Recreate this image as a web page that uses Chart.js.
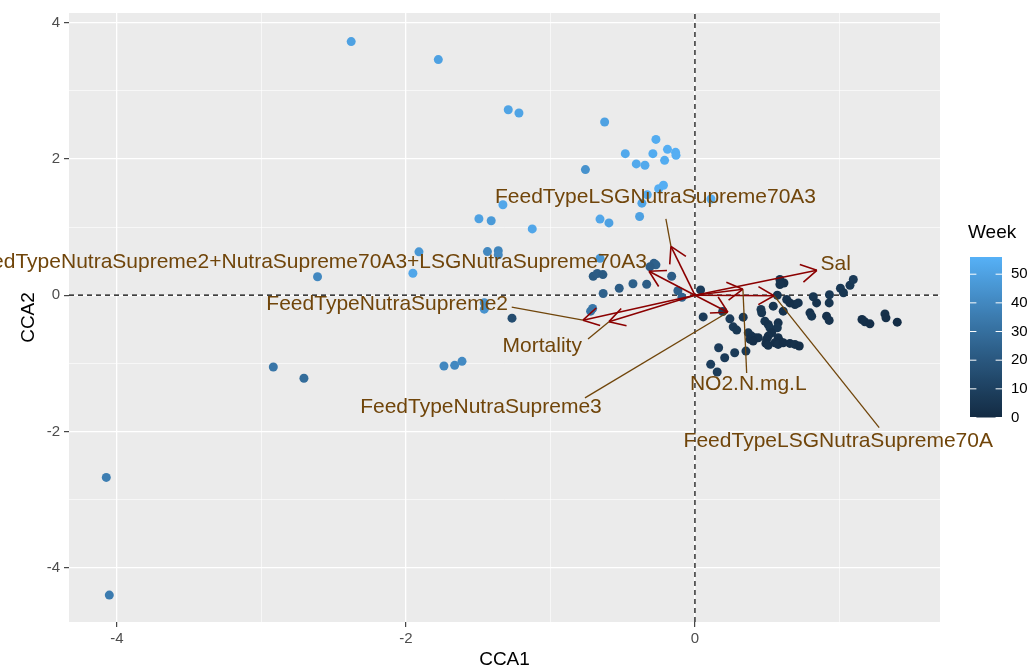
<!DOCTYPE html>
<html><head><meta charset="utf-8">
<script src="https://cdn.jsdelivr.net/npm/chart.js@4.4.1/dist/chart.umd.min.js"></script>
<style>html,body{margin:0;padding:0;background:#fff;overflow:hidden}canvas{display:block}</style>
</head><body>
<canvas id="c" width="1027" height="671"></canvas>
<script>
// ---- site scores (CCA1, CCA2) and Week ----
const cca1 = [-2.379,-1.776,-1.292,-1.218,-0.625,-0.270,-0.482,-0.291,-0.190,-0.134,
  -0.131,-0.210,-0.406,-0.346,-0.758,-0.251,-0.218,-0.330,-0.367,0.111,
  -0.383,-0.657,-0.595,-1.329,-1.495,-1.410,-1.126,-1.910,-1.952,-1.436,
  -1.361,-1.361,-0.657,-2.612,-1.458,-1.458,-2.918,-2.706,-1.737,-1.663,
  -1.612,-4.074,-4.053,-0.704,-0.676,-0.637,-0.284,-0.270,-0.311,-0.161,
  -0.635,-0.524,-0.429,-0.334,-0.118,-0.090,-0.708,-0.722,-1.266,0.039,
  0.057,0.588,0.616,0.588,0.570,0.635,0.657,0.692,0.715,0.542,
  0.457,0.462,0.611,0.819,0.842,0.931,0.929,0.796,0.808,0.911,
  0.929,1.007,1.028,1.073,1.096,1.156,1.176,1.211,1.315,1.322,
  1.400,0.192,0.242,0.334,0.265,0.289,0.484,0.507,0.519,0.576,
  0.570,0.531,0.507,0.496,0.576,0.588,0.369,0.392,0.415,0.438,
  0.381,0.403,0.491,0.507,0.554,0.576,0.611,0.657,0.692,0.722,
  0.164,0.275,0.353,0.206,0.109,0.154];
const cca2 = [3.722,3.458,2.722,2.674,2.542,2.287,2.078,2.078,2.141,2.097,
  2.053,1.980,1.927,1.907,1.844,1.562,1.614,1.474,1.351,1.412,
  1.156,1.117,1.061,1.327,1.122,1.093,0.973,0.637,0.322,0.640,
  0.654,0.593,0.541,0.271,-0.110,-0.205,-1.054,-1.219,-1.039,-1.029,
  -0.970,-2.674,-4.401,0.278,0.318,0.303,0.468,0.446,0.417,0.278,
  0.025,0.102,0.168,0.161,0.066,-0.029,-0.195,-0.234,-0.337,0.078,
  -0.318,0.230,0.180,0.157,0.000,-0.063,-0.113,-0.136,-0.113,-0.161,
  -0.209,-0.259,-0.234,-0.022,-0.113,0.007,-0.113,-0.259,-0.307,-0.307,
  -0.370,0.102,0.037,0.146,0.230,-0.356,-0.391,-0.420,-0.274,-0.332,
  -0.395,-0.239,-0.347,-0.322,-0.464,-0.512,-0.381,-0.429,-0.479,-0.405,
  -0.479,-0.552,-0.600,-0.648,-0.625,-0.673,-0.552,-0.600,-0.625,-0.625,
  -0.648,-0.673,-0.707,-0.736,-0.698,-0.722,-0.698,-0.707,-0.722,-0.746,
  -0.771,-0.844,-0.820,-0.918,-1.014,-1.127];
const week = [50,50,51,51,50,54,53,54,55,55,
  55,54,53,53,44,55,55,54,51,55,
  50,52,50,52,50,47,52,46,52,40,
  39,40,46,40,44,44,33,29,40,40,
  41,36,35,21,22,21,23,24,22,22,
  24,22,24,22,24,25,33,32,15,8,
  7,4,3,4,5,4,3,3,4,5,
  6,5,4,5,4,6,5,4,5,3,
  4,6,5,6,7,2,3,2,3,2,
  1,9,8,6,7,6,5,4,5,4,
  5,3,3,2,3,2,5,4,4,3,
  3,2,2,3,2,3,2,2,3,2,
  8,7,6,7,9,8];

// ---- environmental vectors (biplot arrows) ----
const envNames = ["FeedTypeLSGNutraSupreme70A3",
  "FeedTypeNutraSupreme2+NutraSupreme70A3+LSGNutraSupreme70A3",
  "FeedTypeNutraSupreme2","Mortality","FeedTypeNutraSupreme3",
  "NO2.N.mg.L","Sal","FeedTypeLSGNutraSupreme70A"];
const envCCA1 = [-0.166,-0.318,-0.775,-0.595,0.228,0.332,0.844,0.547];
const envCCA2 = [0.717,0.351,-0.366,-0.388,-0.249,0.088,0.366,-0.007];
// repelled label anchors and segment starts
const labelCCA1 = [-0.273,-0.332,-2.130,-1.057,-1.481,0.369,0.974,0.992];
const labelCCA2 = [1.434,0.483,-0.136,-0.746,-1.649,-1.307,0.458,-2.137];
const labelAlign = ["center","right","center","center","center","center","center","center"];
const segCCA1 = [-0.201,null,-1.268,-0.740,-0.761,0.358,null,1.275];
const segCCA2 = [1.122,null,-0.176,-0.644,-1.507,-1.142,null,-1.942];

// ---- axes ----
const xLimits = [-4.332, 1.696];
const yLimits = [-4.796, 4.142];
const xMajor = [-4,-2,0];
const xMinor = [-3,-1,1];
const yMajor = [-4,-2,0,2,4];
const yMinor = [-3,-1,1,3];
const weekLimits = [0, 56];
const weekBreaks = [0,10,20,30,40,50];

const FONT = '"Liberation Sans", Arial, Helvetica, sans-serif';
const ARROW = '#8B0000';
const LABEL = '#70450A';

// ggplot-like Lab interpolation between low/high
function s2l(c){c/=255;return c<=0.04045?c/12.92:Math.pow((c+0.055)/1.055,2.4);}
function l2s(c){c=c<=0.0031308?12.92*c:1.055*Math.pow(c,1/2.4)-0.055;return Math.round(Math.max(0,Math.min(1,c))*255);}
function hexLab(h){const r=s2l(parseInt(h.substr(1,2),16)),g=s2l(parseInt(h.substr(3,2),16)),b=s2l(parseInt(h.substr(5,2),16));
  const X=(0.4124564*r+0.3575761*g+0.1804375*b)/0.95047,Y=0.2126729*r+0.7151522*g+0.0721750*b,Z=(0.0193339*r+0.1191920*g+0.9503041*b)/1.08883;
  const f=t=>t>0.008856?Math.cbrt(t):7.787*t+16/116;const fx=f(X),fy=f(Y),fz=f(Z);
  return [116*fy-16,500*(fx-fy),200*(fy-fz)];}
function labRgb([L,a,b]){const fy=(L+16)/116,fx=fy+a/500,fz=fy-b/200;
  const fi=t=>t*t*t>0.008856?t*t*t:(t-16/116)/7.787;
  const X=fi(fx)*0.95047,Y=fi(fy),Z=fi(fz)*1.08883;
  const r=3.2404542*X-1.5371385*Y-0.4985314*Z,g=-0.9692660*X+1.8760108*Y+0.0415560*Z,bb=0.0556434*X-0.2040259*Y+1.0572252*Z;
  return 'rgb('+l2s(r)+','+l2s(g)+','+l2s(bb)+')';}
const LOW=hexLab('#132B43'), HIGH=hexLab('#56B1F7');
function weekColor(w){const t=Math.max(0,Math.min(1,(w-weekLimits[0])/(weekLimits[1]-weekLimits[0])));
  return labRgb([0,1,2].map(i=>LOW[i]+(HIGH[i]-LOW[i])*t));}

const isMajorX = v => xMajor.includes(v);
const isMajorY = v => yMajor.includes(v);

const datasets = [];
// points
datasets.push({
  data: cca1.map((v,i)=>({x:v,y:cca2[i]})),
  pointRadius: 4.5, pointBorderWidth: 0,
  pointBackgroundColor: week.map(weekColor),
  showLine:false, order:3
});
// dashed zero lines
datasets.push({data:[{x:0,y:yLimits[0]},{x:0,y:yLimits[1]}],showLine:true,pointRadius:0,borderColor:'#000',borderWidth:1.2,borderDash:[5,4],order:4});
datasets.push({data:[{x:xLimits[0],y:0},{x:xLimits[1],y:0}],showLine:true,pointRadius:0,borderColor:'#000',borderWidth:1.2,borderDash:[5,4],order:4});
// arrows shafts
envNames.forEach((n,i)=>{
  datasets.push({data:[{x:0,y:0},{x:envCCA1[i],y:envCCA2[i]}],showLine:true,pointRadius:0,borderColor:ARROW,borderWidth:1.6,order:2});
});
// label connector segments
envNames.forEach((n,i)=>{
  if(segCCA1[i]===null) return;
  datasets.push({data:[{x:segCCA1[i],y:segCCA2[i]},{x:envCCA1[i],y:envCCA2[i]}],showLine:true,pointRadius:0,borderColor:LABEL,borderWidth:1.3,order:1});
});

const bgPlugin = {id:'bg', beforeDraw(chart){const {ctx,chartArea:a}=chart;ctx.save();ctx.fillStyle='#EBEBEB';ctx.fillRect(a.left,a.top,a.right-a.left,a.bottom-a.top);ctx.restore();}};

const arrowPlugin = {id:'arrows', afterDatasetsDraw(chart){
  const {ctx,scales:{x,y}}=chart;
  ctx.save();
  ctx.strokeStyle=ARROW; ctx.lineWidth=1.6;
  const x0=x.getPixelForValue(0), y0=y.getPixelForValue(0);
  envNames.forEach((n,i)=>{
    const x1=x.getPixelForValue(envCCA1[i]), y1=y.getPixelForValue(envCCA2[i]);
    const ang=Math.atan2(y1-y0,x1-x0);
    ctx.beginPath();
    [-1,1].forEach(s=>{const a=ang+Math.PI+s*Math.PI/6;ctx.moveTo(x1+18*Math.cos(a),y1+18*Math.sin(a));ctx.lineTo(x1,y1);});
    ctx.stroke();
  });
  ctx.fillStyle=LABEL; ctx.font='21px '+FONT; ctx.textBaseline='middle';
  envNames.forEach((n,i)=>{
    ctx.textAlign=labelAlign[i];
    ctx.fillText(n, x.getPixelForValue(labelCCA1[i]), y.getPixelForValue(labelCCA2[i]));
  });
  ctx.restore();
}};

const legendPlugin = {id:'cbar', afterDraw(chart){
  const ctx=chart.ctx; const bx=970,bw=32,top=257,bot=417.5;
  ctx.save();
  const g=ctx.createLinearGradient(0,bot,0,top);
  for(let k=0;k<=30;k++){g.addColorStop(k/30, weekColor(weekLimits[0]+k/30*(weekLimits[1]-weekLimits[0])));}
  ctx.fillStyle=g; ctx.fillRect(bx,top,bw,bot-top);
  ctx.strokeStyle='#fff'; ctx.lineWidth=1;
  ctx.fillStyle='#000'; ctx.font='15px '+FONT; ctx.textBaseline='middle'; ctx.textAlign='left';
  weekBreaks.forEach(b=>{
    const yy=bot-(b-weekLimits[0])/(weekLimits[1]-weekLimits[0])*(bot-top);
    ctx.beginPath();ctx.moveTo(bx,yy);ctx.lineTo(bx+6.4,yy);ctx.moveTo(bx+bw-6.4,yy);ctx.lineTo(bx+bw,yy);ctx.stroke();
    ctx.fillText(String(b),1011,yy);
  });
  ctx.font='19px '+FONT; ctx.fillText('Week',968,233);
  ctx.restore();
}};

new Chart(document.getElementById('c'),{
  type:'scatter',
  data:{datasets},
  plugins:[bgPlugin,arrowPlugin,legendPlugin],
  options:{
    responsive:false, animation:false, events:[],
    layout:{padding:{left:0,right:87,top:11,bottom:0}},
    plugins:{legend:{display:false},tooltip:{enabled:false}},
    scales:{
      x:{type:'linear',min:xLimits[0],max:xLimits[1],
        afterBuildTicks:ax=>{ax.ticks=xMajor.concat(xMinor).sort((a,b)=>a-b).map(v=>({value:v}));},
        afterFit:ax=>{ax.height=49;},
        border:{display:false},
        grid:{color:'#fff',lineWidth:c=>isMajorX(c.tick.value)?1.3:0.6,tickLength:5,
          tickColor:c=>isMajorX(c.tick.value)?'#333':'rgba(0,0,0,0)',tickWidth:1.1},
        ticks:{color:'#4d4d4d',font:{family:FONT,size:15},padding:3,maxRotation:0,autoSkip:false,
          callback:v=>isMajorX(v)?String(v):''},
        title:{display:true,text:'CCA1',color:'#000',font:{family:FONT,size:19},padding:{top:0,bottom:0}}
      },
      y:{type:'linear',min:yLimits[0],max:yLimits[1],
        afterBuildTicks:ax=>{ax.ticks=yMajor.concat(yMinor).sort((a,b)=>a-b).map(v=>({value:v}));},
        afterFit:ax=>{ax.width=69;},
        border:{display:false},
        grid:{color:'#fff',lineWidth:c=>isMajorY(c.tick.value)?1.3:0.6,tickLength:5,
          tickColor:c=>isMajorY(c.tick.value)?'#333':'rgba(0,0,0,0)',tickWidth:1.1},
        ticks:{color:'#4d4d4d',font:{family:FONT,size:15},padding:4,autoSkip:false,
          callback:v=>isMajorY(v)?String(v):''},
        title:{display:true,text:'CCA2',color:'#000',font:{family:FONT,size:19},padding:{top:17,bottom:0}}
      }
    }
  }
});
</script>
</body></html>
